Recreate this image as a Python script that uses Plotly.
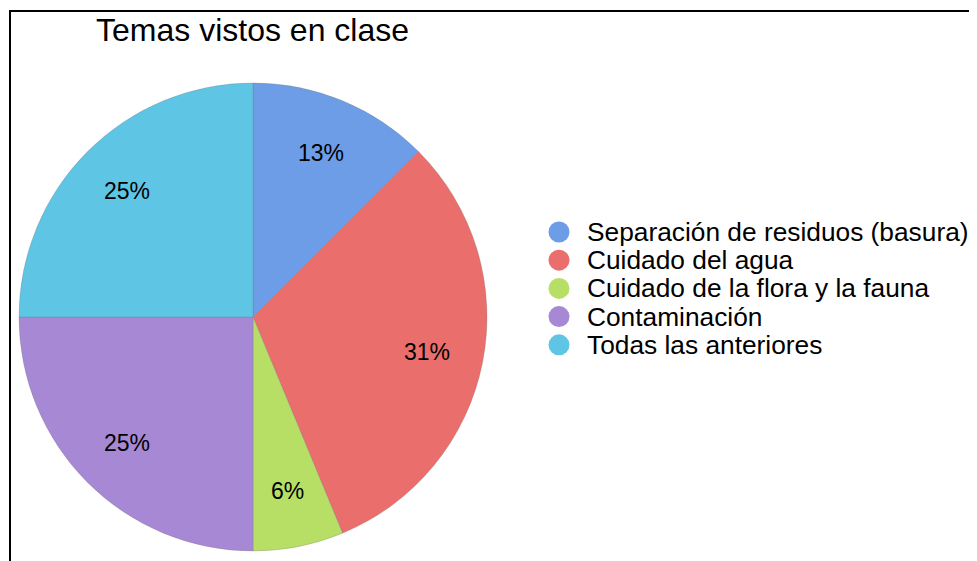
import math
import plotly.graph_objects as go

# données du graphique
TEMAS = ['Separación de residuos (basura)', 'Cuidado del agua',
         'Cuidado de la flora y la fauna', 'Contaminación', 'Todas las anteriores']
VALORES = [2, 5, 1, 4, 4]
COLORES = ['#6c9de6', '#ea6e6b', '#b7df66', '#a688d4', '#5fc5e5']

# la page ajoute une marge de 8 px autour de la figure
OFF = 8
W, H = 977 - OFF, 561 - OFF
FONT = 'Arial, Liberation Sans, sans-serif'

def fx(px):
    return (px - OFF) / W

def fy(py):
    return 1 - (py - OFF) / H

# géométrie du camembert (pixels de la capture)
CX, CY, R = 253, 317, 234

fig = go.Figure()

fig.add_trace(go.Pie(
    labels = TEMAS, values = VALORES, sort = False,
    direction = 'clockwise', rotation = 0,
    marker = dict(colors = COLORES, line = dict(width = 0.6, color = 'rgba(120,120,120,0.5)')),
    textinfo = 'none', hoverinfo = 'label+percent',
    showlegend = False,
    domain = dict(x = [fx(CX - R), fx(CX + R)], y = [fy(CY + R), fy(CY - R)])
))

# étiquettes de pourcentage à ~75% du rayon, au milieu de chaque part
total = sum(VALORES)
cumul = 0
annotations = []
for v in VALORES:
    mid = (cumul + v / 2) / total * 2 * math.pi
    cumul += v
    pct = int(v / total * 100 + 0.5)
    annotations.append(dict(x = fx(CX + 0.76 * R * math.sin(mid)),
                            y = fy(CY - 0.76 * R * math.cos(mid)),
                            xref = 'paper', yref = 'paper',
                            xanchor = 'center', yanchor = 'middle',
                            text = f'{pct}%', showarrow = False,
                            font = dict(family = FONT, size = 23, color = 'black')))

# légende dessinée à la main (cercles + texte)
shapes = []
LEG_X, LEG_Y0, LEG_DY = 559, 232, 28.2
for i, (tema, col) in enumerate(zip(TEMAS, COLORES)):
    y = fy(LEG_Y0 + i * LEG_DY)
    shapes.append(dict(type = 'circle', xref = 'paper', yref = 'paper',
                       xsizemode = 'pixel', ysizemode = 'pixel',
                       xanchor = fx(LEG_X), yanchor = y,
                       x0 = -10.5, x1 = 10.5, y0 = -10.5, y1 = 10.5,
                       fillcolor = col, line = dict(width = 0)))
    annotations.append(dict(x = fx(585), y = y, xref = 'paper', yref = 'paper',
                            xanchor = 'left', yanchor = 'middle', text = tema, showarrow = False,
                            font = dict(family = FONT, size = 26.3, color = 'black')))

# cadre
shapes.append(dict(type = 'rect', xref = 'paper', yref = 'paper',
                   x0 = fx(10), x1 = 1.02, y0 = -0.02, y1 = fy(11),
                   line = dict(color = 'black', width = 2)))

fig.update_layout(
    width = W, height = H,
    margin = dict(l = 0, r = 0, t = 0, b = 0),
    paper_bgcolor = 'white', plot_bgcolor = 'white',
    title = dict(text = 'Temas vistos en clase', x = fx(96), xanchor = 'left',
                 y = fy(30), yanchor = 'middle',
                 font = dict(family = FONT, size = 32, color = 'black')),
    annotations = annotations,
    shapes = shapes,
    showlegend = False
)

fig.write_html('out.html')
